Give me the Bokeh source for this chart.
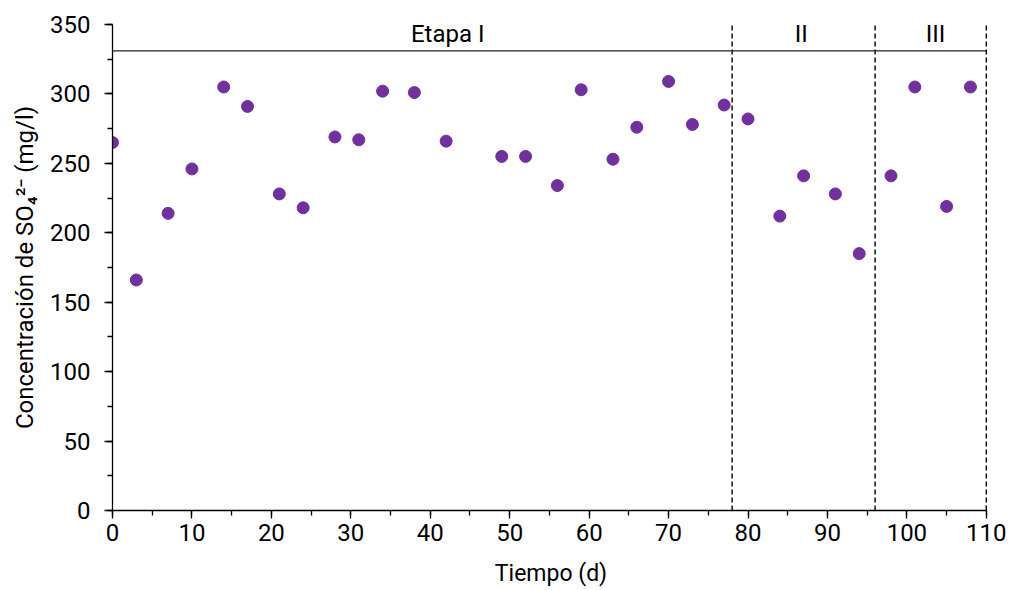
from bokeh.plotting import figure
from bokeh.models import SingleIntervalTicker, ColumnDataSource
from bokeh.core.properties import value
from bokeh.embed import file_html
from bokeh.resources import INLINE

# Data
tiempo = [0, 3, 7, 10, 14, 17, 21, 24, 28, 31, 34, 38, 42, 49, 52, 56, 59, 63, 66, 70,
          73, 77, 80, 84, 87, 91, 94, 98, 101, 105, 108]
sulfato = [265, 166, 214, 246, 305, 291, 228, 218, 269, 267, 302, 301, 266, 255, 255, 234,
           303, 253, 276, 309, 278, 292, 282, 212, 241, 228, 185, 241, 305, 219, 305]

limites_etapas = [78, 96, 110]
etapa_inicio = 0
etapa_nivel = 331
etiquetas_etapas = ["Etapa I", "II", "III"]
etiquetas_x = [42.2, 86.7, 103.6]
etiquetas_y = [343, 343, 343]

FONT = "Roboto"

p = figure(width=1010, height=590, output_backend="svg", toolbar_location=None,
           x_range=(0, 110.4), y_range=(0, 350),
           min_border_left=112, min_border_right=21, min_border_top=24, min_border_bottom=80)
p.outline_line_color = None
p.grid.visible = False
p.background_fill_color = "white"
p.border_fill_color = "white"

# stage boundaries (dashed vertical lines)
p.segment(x0=limites_etapas, y0=[0] * len(limites_etapas), x1=limites_etapas,
          y1=[350] * len(limites_etapas), line_color="black", line_width=1.4, line_dash="5 3")
# horizontal stage line
p.segment(x0=[etapa_inicio], y0=[etapa_nivel], x1=[limites_etapas[-1]], y1=[etapa_nivel],
          line_color="#222222", line_width=1.4)

p.text(x=etiquetas_x, y=etiquetas_y, text=etiquetas_etapas, text_align="center",
       text_baseline="middle", text_font=value(FONT), text_font_size="24px", text_color="black")

src = ColumnDataSource(dict(x=tiempo, y=sulfato))
p.scatter("x", "y", source=src, size=12, fill_color="#7030A0", line_color="#7030A0")

p.xaxis.ticker = SingleIntervalTicker(interval=10, num_minor_ticks=2)
p.yaxis.ticker = SingleIntervalTicker(interval=50, num_minor_ticks=2)
p.xaxis.bounds = (0, 110)

for ax in (p.xaxis[0], p.yaxis[0]):
    ax.axis_line_color = "black"
    ax.axis_line_width = 1.3
    ax.major_tick_line_color = "black"
    ax.minor_tick_line_color = "black"
    ax.major_tick_line_width = 1.3
    ax.minor_tick_line_width = 1.3
    ax.major_tick_in = 0
    ax.major_tick_out = 8
    ax.minor_tick_in = 0
    ax.minor_tick_out = 5
    ax.major_label_text_font = FONT
    ax.major_label_text_font_size = "24px"
    ax.major_label_text_color = "black"
    ax.axis_label_text_font = FONT
    ax.axis_label_text_font_style = "normal"
    ax.axis_label_text_color = "black"

p.xaxis.axis_label = "Tiempo (d)"
p.yaxis.axis_label = "Concentración de SO\u2084\u00b2\u207b (mg/l)"
p.xaxis.axis_label_text_font_size = "23px"
p.yaxis.axis_label_text_font_size = "24px"
p.xaxis.major_label_standoff = 5
p.yaxis.major_label_standoff = 14
p.xaxis.axis_label_standoff = 16
p.yaxis.axis_label_standoff = 8

html = file_html(p, INLINE)
open("out.html", "w").write(html)
